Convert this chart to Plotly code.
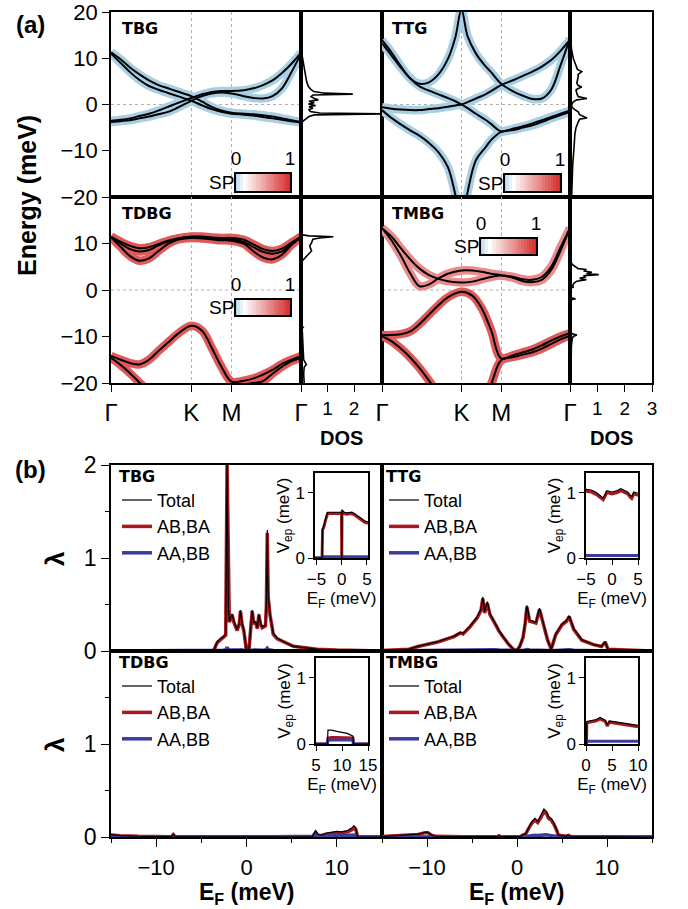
import plotly.graph_objects as go

# ======================= DATA =======================
# ---- panel (a): k-path, band energies (meV) ----
K_PT = 0.4226
M_PT = 0.634
k_ticks = [0.0, K_PT, M_PT, 1.0]
k_labels = ["Γ", "K", "M", "Γ"]

k_std = [0, 0.05, 0.1, 0.15, 0.2, 0.25, 0.3, 0.35, 0.4226, 0.48, 0.53, 0.58, 0.634,
         0.7, 0.75, 0.8, 0.85, 0.9, 0.95, 1.0]
k_ttg = [0, 0.05, 0.1, 0.15, 0.2, 0.25, 0.3, 0.35, 0.39, 0.4226, 0.455, 0.5, 0.55, 0.58,
         0.634, 0.7, 0.75, 0.8, 0.85, 0.9, 0.95, 1.0]

tbg_bands = [
    [11.3, 9.8, 8.0, 6.5, 5.2, 4.2, 3.5, 2.8, 1.8, 0.6, -0.5, -1.3, -1.8, -2.0, -2.1, -2.3, -2.6, -3.0, -3.4, -3.8],
    [11.0, 9.0, 7.0, 5.3, 4.0, 3.2, 2.5, 1.8, 0.8, -0.2, -1.0, -1.6, -2.0, -2.2, -2.4, -2.7, -3.0, -3.3, -3.6, -3.9],
    [-3.5, -3.3, -3.0, -2.5, -2.0, -1.3, -0.5, 0.3, 1.4, 2.2, 2.7, 2.9, 2.9, 3.1, 3.5, 4.2, 5.2, 6.8, 8.8, 11.2],
    [-3.8, -3.6, -3.4, -3.0, -2.6, -2.1, -1.6, -0.7, 0.8, 1.8, 2.4, 2.6, 2.4, 1.8, 1.4, 1.3, 1.8, 3.5, 7.0, 11.0],
]
ttg_bands = [
    [13.9, 11.3, 8.3, 5.7, 4.5, 4.8, 6.5, 9.8, 14.5, 20.5, 14.8, 11.0, 8.3, 7.0, 4.5, 2.8, 1.9, 1.2, 1.3, 3.2, 8.5, 14.3],
    [13.2, 10.6, 8.0, 5.6, 3.9, 3.0, 2.2, 1.4, 0.7, 0.0, -0.8, -2.0, -3.3, -4.2, -5.8, -5.2, -4.7, -4.1, -3.4, -2.7, -2.0, -1.3],
    [-0.6, -0.9, -1.1, -1.2, -1.2, -1.0, -0.8, -0.5, -0.2, 0.0, 0.5, 1.3, 2.2, 2.9, 4.2, 5.3, 6.2, 7.1, 8.2, 9.6, 11.6, 14.0],
    [-1.2, -2.9, -4.3, -5.6, -6.8, -8.3, -10.3, -13.5, -19.5, -26.0, -19.0, -12.0, -9.3, -7.7, -5.9, -5.5, -5.0, -4.5, -3.8, -3.0, -2.3, -1.6],
]
tdbg_bands = [
    [11.5, 10.4, 9.5, 9.0, 9.2, 9.9, 10.6, 11.1, 11.5, 11.5, 11.3, 11.2, 11.2, 10.8, 9.8, 8.8, 8.4, 8.9, 10.2, 11.5],
    [11.3, 9.3, 7.3, 6.3, 6.8, 8.4, 9.9, 10.8, 11.2, 11.1, 10.9, 10.7, 10.6, 9.9, 8.3, 7.0, 6.6, 7.6, 9.7, 11.3],
    [11.4, 10.0, 8.8, 8.3, 8.6, 9.6, 10.4, 11.0, 11.4, 11.3, 11.1, 11.0, 10.9, 10.3, 9.2, 8.2, 7.8, 8.3, 9.9, 11.4],
    [-14.2, -15.0, -15.7, -16.0, -15.0, -13.1, -11.3, -9.5, -7.7, -8.8, -12.4, -16.4, -19.7, -19.5, -19.0, -18.2, -17.2, -15.9, -15.0, -14.2],
    [-14.6, -16.1, -17.9, -19.9, -22.0, -24.0, -26.0, -28.0, -30.0, -28.0, -26.0, -23.0, -20.6, -20.3, -20.0, -19.6, -18.0, -16.5, -15.3, -14.6],
]
tmbg_bands = [
    [13.3, 10.7, 7.4, 3.6, 0.8, 1.2, 2.5, 3.5, 4.2, 4.2, 3.9, 3.5, 3.2, 2.8, 2.3, 2.2, 2.8, 5.0, 9.2, 13.3],
    [13.3, 11.5, 9.0, 6.6, 4.6, 3.2, 2.4, 1.9, 1.6, 1.8, 2.3, 2.8, 3.1, 2.6, 1.9, 1.7, 2.2, 4.3, 8.5, 13.3],
    [-9.7, -9.7, -9.5, -8.9, -7.3, -5.3, -3.3, -1.6, -0.4, -1.2, -3.9, -8.6, -14.7, -14.0, -13.4, -12.8, -11.9, -10.9, -10.0, -9.3],
    [-9.9, -11.0, -12.6, -14.5, -16.8, -19.5, -22.5, -25.5, -30.0, -28.0, -24.5, -20.3, -15.1, -14.4, -13.9, -13.4, -12.6, -11.6, -10.6, -9.8],
]

# ---- panel (a): DOS ----
tbg_dos_E = [20, 11.6, 11.0, 10.0, 9.0, 8.0, 7.0, 6.0, 5.0, 4.0, 3.3, 2.8, 2.45, 2.25, 2.05, 1.7, 1.3, 1.0, 0.7, 0.4,
             0.1, -0.2, -0.5, -0.8, -1.1, -1.5, -1.85, -2.05, -2.25, -2.6, -3.0, -3.5, -3.9, -4.3, -20]
tbg_dos_D = [0, 0, 0.03, 0.06, 0.09, 0.12, 0.15, 0.18, 0.21, 0.27, 0.36, 0.48, 0.9, 1.95, 0.45, 0.38, 0.5, 0.65, 0.3, 0.5,
             0.28, 0.55, 0.3, 0.45, 0.3, 0.35, 0.7, 3.3, 0.5, 0.3, 0.2, 0.1, 0.03, 0, 0]
ttg_dos_E = [20, 15.4, 13.5, 11.8, 10, 8.5, 7.6, 7.1, 6.5, 6.0, 5.3, 4.6, 4.1, 3.8, 3.4, 3.1, 2.4, 1.7, 1.3, 1.0,
             0.6, 0.0, -0.5, -1.0, -1.6, -2.2, -2.9, -3.2, -3.8, -5.0, -6.3, -8, -9.9, -13, -17, -20]
ttg_dos_D = [0, 0, 0.03, 0.06, 0.12, 0.22, 0.27, 0.43, 0.3, 0.3, 0.27, 0.25, 0.3, 0.43, 0.28, 0.22, 0.25, 0.3, 0.62, 0.25,
             0.12, 0.07, 0.06, 0.15, 0.3, 0.35, 0.62, 0.35, 0.3, 0.22, 0.18, 0.15, 0.14, 0.1, 0.08, 0.06]
tdbg_dos_E = [20, 11.9, 11.65, 11.45, 11.2, 10.9, 10.2, 9.5, 8.9, 8.4, 7.7, 7.0, 6.6, 6.1, 5.9, -7.8, -8.0, -8.3,
              -9, -11, -13, -15, -16, -16.6, -18, -20]
tdbg_dos_D = [0, 0, 0.3, 1.22, 0.7, 0.45, 0.4, 0.33, 0.36, 0.4, 0.28, 0.15, 0.1, 0.02, 0, 0, 0.08, 0.03,
              0.05, 0.06, 0.07, 0.1, 0.2, 0.12, 0.1, 0.12]
tmbg_dos_E = [20, 13.5, 10, 7, 6, 5.5, 5.0, 4.6, 4.4, 4.1, 3.8, 3.5, 3.3, 3.1, 2.8, 2.5, 2.2, 1.9, 1.5, 1.0, 0.6,
              0.3, 0.0, -1.6, -1.9, -2.1, -9.3, -9.7, -10.0, -10.5, -12, -14, -17, -20]
tmbg_dos_D = [0, 0, 0.01, 0.02, 0.04, 0.08, 0.2, 0.3, 0.6, 0.5, 0.8, 0.6, 1.05, 0.5, 0.55, 0.35, 0.6, 0.25, 0.15, 0.1, 0.12,
              0.02, 0, 0, 0.2, 0.02, 0.02, 0.25, 0.12, 0.08, 0.05, 0.04, 0.03, 0.03]

# ---- SP colour-bar levels ----
sp_levels = [0.0, 0.05, 0.1, 0.15, 0.2, 0.25, 0.3, 0.35, 0.4, 0.45, 0.5, 0.55, 0.6, 0.65, 0.7, 0.75, 0.8,
             0.85, 0.9, 0.95, 1.0]

# ---- panel (b): lambda vs E_F ----
tbg_lam_E = [-15, -4.0, -3.6, -3.24, -2.9, -2.6, -2.3, -2.15, -2.0, -1.9, -1.6, -1.4, -1.04, -0.8, -0.67, -0.5,
             -0.3, -0.1, 0.0, 0.26, 0.45, 0.63, 0.8, 1.0, 1.2, 1.37, 1.55, 1.74, 2.1, 2.2, 2.3, 2.4, 2.6, 2.96,
             3.4, 4.1, 5.2, 7.8, 10, 15]
tbg_lam_tot = [0, 0, 0.01, 0.1, 0.13, 0.15, 0.18, 2.05, 0.45, 0.32, 0.4, 0.32, 0.23, 0.3, 0.44, 0.3,
               0.23, 0.05, 0.0, 0.0, 0.2, 0.44, 0.3, 0.32, 0.25, 0.4, 0.3, 0.26, 0.28, 0.5, 1.3, 0.6, 0.4, 0.19,
               0.14, 0.1, 0.05, 0.02, 0.01, 0]
tbg_lam_ab = [0, 0, 0.01, 0.09, 0.12, 0.14, 0.17, 2.0, 0.43, 0.31, 0.39, 0.31, 0.22, 0.29, 0.43, 0.29,
              0.22, 0.05, 0.0, 0.0, 0.19, 0.43, 0.29, 0.31, 0.24, 0.39, 0.29, 0.25, 0.27, 0.48, 1.27, 0.58, 0.39, 0.18,
              0.13, 0.1, 0.05, 0.02, 0.01, 0]
tbg_lam_aa = [0, 0, 0, 0.005, 0.006, 0.008, 0.012, 0.04, 0.015, 0.01, 0.012, 0.01, 0.008, 0.01, 0.012, 0.01,
              0.008, 0.002, 0, 0, 0.006, 0.012, 0.01, 0.01, 0.008, 0.012, 0.01, 0.008, 0.01, 0.015, 0.03, 0.015, 0.01,
              0.006, 0.004, 0.003, 0.002, 0.001, 0, 0]

ttg_lam_E = [-15, -12, -11, -8.8, -7, -6.3, -6.0, -5.2, -4.4, -4.0, -3.8, -3.6, -3.3, -3.0, -2.6, -2.0, -1.5,
             -0.9, -0.4, -0.1, 0.3, 0.67, 0.9, 1.1, 1.4, 2.1, 2.5, 3.0, 3.4, 3.8, 4.3, 5.0, 5.5, 5.8, 6.3, 7.2,
             8.5, 9.4, 9.8, 10.1, 12, 15]
ttg_lam_tot = [0.005, 0.02, 0.05, 0.1, 0.16, 0.2, 0.19, 0.27, 0.37, 0.45, 0.58, 0.42, 0.53, 0.4, 0.33, 0.22, 0.15,
               0.07, 0.02, 0.0, 0.05, 0.15, 0.3, 0.49, 0.33, 0.31, 0.46, 0.26, 0.12, 0.02, 0.18, 0.29, 0.33, 0.38,
               0.24, 0.12, 0.07, 0.05, 0.1, 0.02, 0.01, 0]
ttg_lam_ab = [0.005, 0.02, 0.048, 0.097, 0.155, 0.194, 0.184, 0.262, 0.36, 0.437, 0.565, 0.408, 0.515, 0.388, 0.32,
              0.213, 0.145, 0.068, 0.02, 0.0, 0.048, 0.145, 0.29, 0.476, 0.32, 0.3, 0.447, 0.252, 0.116, 0.02, 0.175,
              0.282, 0.32, 0.369, 0.233, 0.116, 0.068, 0.048, 0.097, 0.02, 0.01, 0]
ttg_lam_aa = [0, 0.004, 0.006, 0.008, 0.01, 0.012, 0.012, 0.014, 0.016, 0.018, 0.02, 0.016, 0.018, 0.015, 0.013,
              0.01, 0.008, 0.005, 0.002, 0, 0.003, 0.006, 0.01, 0.015, 0.01, 0.01, 0.014, 0.01, 0.006, 0.002, 0.007,
              0.01, 0.012, 0.013, 0.009, 0.006, 0.004, 0.003, 0.004, 0.001, 0, 0]

tdbg_lam_E = [-15, -14, -12, -10, -8.3, -8.1, -7.9, -5, 0, 5, 7.3, 7.5, 7.65, 7.9, 8.3, 8.8, 9.3, 10.0, 10.6,
              11.2, 11.7, 11.9, 12.1, 12.3, 15]
tdbg_lam_tot = [0.025, 0.015, 0.008, 0.005, 0.005, 0.03, 0.005, 0.002, 0.001, 0.001, 0.002, 0.04, 0.07, 0.03, 0.02,
                0.04, 0.05, 0.06, 0.055, 0.07, 0.1, 0.12, 0.1, 0.0, 0]
tdbg_lam_ab = [0.022, 0.013, 0.007, 0.004, 0.004, 0.025, 0.004, 0.002, 0.001, 0.001, 0.002, 0.03, 0.05, 0.02, 0.015,
               0.03, 0.04, 0.045, 0.045, 0.055, 0.08, 0.1, 0.08, 0.0, 0]
tdbg_lam_aa = [0.002, 0.001, 0.001, 0, 0, 0.003, 0, 0, 0, 0, 0, 0.008, 0.015, 0.008, 0.006, 0.01, 0.012, 0.014, 0.012,
               0.015, 0.02, 0.022, 0.02, 0, 0]

tmbg_lam_E = [-15, -13, -12, -11, -10.2, -9.9, -9.5, -9, -6, -2.2, -2.0, -1.8, 0.3, 0.6, 1.0, 1.4, 1.7, 2.0, 2.3,
              2.6, 3.0, 3.3, 3.5, 3.8, 4.1, 4.4, 4.6, 5.5, 5.7, 6, 10, 15]
tmbg_lam_tot = [0.005, 0.015, 0.02, 0.03, 0.05, 0.05, 0.02, 0.008, 0.003, 0.003, 0.015, 0.003, 0.003, 0.02, 0.04,
                0.12, 0.17, 0.2, 0.17, 0.22, 0.3, 0.27, 0.22, 0.2, 0.15, 0.08, 0.02, 0.01, 0.02, 0.005, 0.002, 0]
tmbg_lam_ab = [0.005, 0.014, 0.019, 0.028, 0.047, 0.047, 0.019, 0.007, 0.003, 0.003, 0.014, 0.003, 0.003, 0.018,
               0.037, 0.11, 0.155, 0.182, 0.155, 0.2, 0.275, 0.247, 0.2, 0.182, 0.137, 0.073, 0.018, 0.009, 0.018,
               0.005, 0.002, 0]
tmbg_lam_aa = [0, 0.001, 0.001, 0.002, 0.003, 0.003, 0.001, 0, 0, 0, 0.001, 0, 0, 0.002, 0.003, 0.01, 0.015, 0.018,
               0.015, 0.02, 0.025, 0.023, 0.02, 0.018, 0.013, 0.007, 0.002, 0.001, 0.001, 0, 0, 0]

# ---- panel (b) insets: V_ep vs E_F ----
tbg_in_E = [-5.3, -3.9, -3.8, -3.6, -3.2, -2.8, -2.0, -1.0, -0.2, -0.05, 0.0, 0.05, 0.2, 0.5, 1.0, 1.5, 2.0, 2.5,
            3.0, 3.5, 4.0, 4.5, 5.2]
tbg_in_tot = [0, 0, 0.45, 0.48, 0.6, 0.7, 0.7, 0.7, 0.7, 0.7, 0.0, 0.74, 0.72, 0.7, 0.69, 0.7, 0.7, 0.68, 0.65, 0.62,
              0.6, 0.57, 0.55]
tbg_in_ab = [0, 0, 0.43, 0.46, 0.58, 0.68, 0.68, 0.68, 0.68, 0.68, 0.0, 0.72, 0.7, 0.68, 0.67, 0.68, 0.68, 0.66, 0.63,
             0.6, 0.58, 0.55, 0.53]
tbg_in_aa = [0, 0, 0.02, 0.02, 0.02, 0.02, 0.02, 0.02, 0.02, 0.02, 0.0, 0.02, 0.02, 0.02, 0.02, 0.02, 0.02, 0.02,
             0.02, 0.02, 0.02, 0.02, 0.02]

ttg_in_E = [-5, -4, -3, -2.5, -2, -1.7, -1.3, -1, 0, 1, 1.7, 2.5, 3, 3.5, 3.8, 4.2, 5]
ttg_in_tot = [1.05, 1.04, 1.0, 0.97, 0.94, 0.92, 0.98, 1.03, 1.01, 1.03, 1.06, 1.03, 1.01, 0.96, 0.94, 1.01, 0.99]
ttg_in_ab = [1.02, 1.01, 0.97, 0.94, 0.91, 0.89, 0.95, 1.0, 0.98, 1.0, 1.03, 1.0, 0.98, 0.93, 0.91, 0.98, 0.96]
ttg_in_aa = [0.04, 0.04, 0.04, 0.04, 0.04, 0.04, 0.04, 0.04, 0.04, 0.04, 0.04, 0.04, 0.04, 0.04, 0.04, 0.04, 0.04]

tdbg_in_E = [5, 7.2, 7.3, 8, 9, 10, 11, 11.8, 12.1, 12.2, 15]
tdbg_in_tot = [0, 0, 0.21, 0.21, 0.19, 0.18, 0.16, 0.13, 0.12, 0, 0]
tdbg_in_ab = [0, 0, 0.09, 0.1, 0.1, 0.1, 0.1, 0.09, 0.09, 0, 0]
tdbg_in_aa = [0, 0, 0.06, 0.06, 0.06, 0.06, 0.06, 0.06, 0.06, 0, 0]

tmbg_in_E = [0, 0.1, 0.15, 1.0, 2.0, 2.7, 3.7, 4.1, 4.5, 6.0, 8.0, 10.0]
tmbg_in_tot = [0, 0, 0.34, 0.35, 0.37, 0.40, 0.36, 0.29, 0.35, 0.33, 0.30, 0.28]
tmbg_in_ab = [0, 0, 0.32, 0.33, 0.35, 0.38, 0.34, 0.27, 0.33, 0.31, 0.28, 0.26]
tmbg_in_aa = [0, 0, 0.04, 0.04, 0.04, 0.04, 0.04, 0.04, 0.04, 0.04, 0.04, 0.04]

# ======================= STYLE / LAYOUT =======================
W, H = 688, 909
FONT = "Liberation Sans, Arial, sans-serif"
TFONT = "DejaVu Sans, sans-serif"
HALO_BLUE = "#a8cfe4"
HALO_RED = "#e05a5a"
HALO_PINK = "#ea8c8c"
AB_RED = "#a8191e"
AA_BLUE = "#3b3b9b"
SP_SCALE = [[0.0, "#b3d5ea"], [0.15, "#ffffff"], [1.0, "#d42a2a"]]


def dx(a, b):
    return [a / W, b / W]


def dy(a, b):
    return [1 - b / H, 1 - a / H]


fig = go.Figure()
layout = dict(width=W, height=H, margin=dict(l=0, r=0, t=0, b=0, autoexpand=False), paper_bgcolor="white",
              plot_bgcolor="white", font=dict(family=FONT, color="black"), showlegend=True)
shapes, annots = [], []
n_ax = [0]


def make_axes(xd, yd, xa, ya):
    n_ax[0] += 1
    s = "" if n_ax[0] == 1 else str(n_ax[0])
    common = dict(showline=True, mirror=True, linecolor="black", linewidth=1.5, zeroline=False,
                  showgrid=False, fixedrange=True, ticks="", showticklabels=False, tickcolor="black",
                  automargin=False, ticklabeloverflow="allow")
    a = dict(common); a.update(xa); a.update(domain=xd, anchor="y" + s)
    b = dict(common); b.update(ya); b.update(domain=yd, anchor="x" + s)
    layout["xaxis" + s] = a
    layout["yaxis" + s] = b
    return "x" + s, "y" + s


def tf(size):
    return dict(family=FONT, size=size, color="black")


# ---------------- panel (a) ----------------
mats_a = [
    dict(name="TBG", k=k_std, bands=tbg_bands, halo=[HALO_BLUE] * 4, dE=tbg_dos_E, dD=tbg_dos_D,
         bx=(111, 301), sx=(301, 382), y=(12, 197), left=True, bottom=False, drange=[0, 3.05], dticks=[1, 2],
         cb=((236, 290), (174, 191))),
    dict(name="TTG", k=k_ttg, bands=ttg_bands, halo=[HALO_BLUE] * 4, dE=ttg_dos_E, dD=ttg_dos_D,
         bx=(382, 570), sx=(570, 652), y=(12, 197), left=False, bottom=False, drange=[0, 3.0], dticks=[1, 2, 3],
         cb=((505, 560), (175, 191))),
    dict(name="TDBG", k=k_std, bands=tdbg_bands, halo=[HALO_RED] * 5, dE=tdbg_dos_E, dD=tdbg_dos_D,
         bx=(111, 301), sx=(301, 382), y=(197, 383), left=True, bottom=True, drange=[0, 3.05], dticks=[1, 2],
         cb=((236, 290), (300, 315))),
    dict(name="TMBG", k=k_std, bands=tmbg_bands, halo=[HALO_PINK, HALO_PINK, HALO_RED, HALO_RED],
         dE=tmbg_dos_E, dD=tmbg_dos_D,
         bx=(382, 570), sx=(570, 652), y=(197, 383), left=False, bottom=True, drange=[0, 3.0], dticks=[1, 2, 3],
         cb=((481, 536), (239, 254))),
]

for m in mats_a:
    xa = dict(range=[0, 1], tickvals=k_ticks, ticktext=k_labels, showgrid=True, gridcolor="#b0b0b0",
              griddash="dot", gridwidth=1)
    if m["bottom"]:
        xa.update(ticks="outside", ticklen=7, showticklabels=True, tickfont=tf(24))
    ya = dict(range=[-20, 20])
    if m["left"]:
        ya.update(ticks="outside", ticklen=7, showticklabels=True, tickfont=tf(22),
                  tickvals=[-20, -10, 0, 10, 20] if not m["bottom"] else [-20, -10, 0, 10])
    xr, yr = make_axes(dx(*m["bx"]), dy(*m["y"]), xa, ya)
    shapes.append(dict(type="line", xref=xr + " domain", x0=0, x1=1, yref=yr, y0=0, y1=0, layer="below",
                       line=dict(color="#b0b0b0", width=1, dash="dot")))
    for band, hc in zip(m["bands"], m["halo"]):
        fig.add_trace(go.Scatter(x=m["k"], y=band, mode="lines", line=dict(color=hc, width=8.5, shape="spline"),
                                 xaxis=xr, yaxis=yr, showlegend=False, hoverinfo="skip"))
    for band in m["bands"]:
        fig.add_trace(go.Scatter(x=m["k"], y=band, mode="lines", line=dict(color="black", width=2, shape="spline"),
                                 xaxis=xr, yaxis=yr, showlegend=False, hoverinfo="skip"))
    annots.append(dict(text="<b>%s</b>" % m["name"], xref=xr + " domain", yref=yr + " domain", x=0.045, y=0.975,
                       xanchor="left", yanchor="top", showarrow=False, font=dict(family=TFONT, size=16, color="black")))
    # DOS
    xa = dict(range=m["drange"])
    if m["bottom"]:
        xa.update(ticks="outside", ticklen=7, showticklabels=True, tickvals=m["dticks"], tickfont=tf(19))
    xr2, yr2 = make_axes(dx(*m["sx"]), dy(*m["y"]), xa, dict(range=[-20, 20]))
    fig.add_trace(go.Scatter(x=m["dD"], y=m["dE"], mode="lines", line=dict(color="black", width=1.6),
                             xaxis=xr2, yaxis=yr2, showlegend=False, hoverinfo="skip"))
    # SP colour bar
    (cx0, cx1), (cy0, cy1) = m["cb"]
    xr3, yr3 = make_axes(dx(cx0, cx1), dy(cy0, cy1),
                         dict(range=[0, 1], side="top", tickvals=[0, 1], ticktext=["0", "1"], showticklabels=True,
                              tickfont=tf(19), linewidth=1.5),
                         dict(range=[-0.5, 0.5], linewidth=1.5))
    fig.add_trace(go.Heatmap(z=[sp_levels], x=sp_levels, y=[0], colorscale=SP_SCALE, zmin=0, zmax=1,
                             showscale=False, xaxis=xr3, yaxis=yr3, hoverinfo="skip"))
    annots.append(dict(text="SP", xref=xr3 + " domain", yref=yr3 + " domain", x=0, y=0.5, xanchor="right",
                       yanchor="middle", xshift=0, showarrow=False, font=tf(19)))

# ---------------- panel (b) ----------------
mats_b = [
    dict(name="TBG", E=tbg_lam_E, tot=tbg_lam_tot, ab=tbg_lam_ab, aa=tbg_lam_aa, bx=(111, 382), y=(465, 651),
         left=True, bottom=False, iE=tbg_in_E, itot=tbg_in_tot, iab=tbg_in_ab, iaa=tbg_in_aa,
         ix=(315, 368), iy=(473, 558), irange=[-5.3, 5.2], iticks=[-5, 0, 5], leg="legend", lx=117),
    dict(name="TTG", E=ttg_lam_E, tot=ttg_lam_tot, ab=ttg_lam_ab, aa=ttg_lam_aa, bx=(382, 652), y=(465, 651),
         left=False, bottom=False, iE=ttg_in_E, itot=ttg_in_tot, iab=ttg_in_ab, iaa=ttg_in_aa,
         ix=(586, 638), iy=(473, 558), irange=[-5, 5], iticks=[-5, 0, 5], leg="legend2", lx=384),
    dict(name="TDBG", E=tdbg_lam_E, tot=tdbg_lam_tot, ab=tdbg_lam_ab, aa=tdbg_lam_aa, bx=(111, 382), y=(651, 837),
         left=True, bottom=True, iE=tdbg_in_E, itot=tdbg_in_tot, iab=tdbg_in_ab, iaa=tdbg_in_aa,
         ix=(316, 368), iy=(658, 744), irange=[5, 15], iticks=[5, 10, 15], leg="legend3", lx=117),
    dict(name="TMBG", E=tmbg_lam_E, tot=tmbg_lam_tot, ab=tmbg_lam_ab, aa=tmbg_lam_aa, bx=(382, 652), y=(651, 837),
         left=False, bottom=True, iE=tmbg_in_E, itot=tmbg_in_tot, iab=tmbg_in_ab, iaa=tmbg_in_aa,
         ix=(586, 638), iy=(658, 744), irange=[0, 10], iticks=[0, 5, 10], leg="legend4", lx=384),
]

for i, m in enumerate(mats_b):
    xa = dict(range=[-15, 15])
    if m["bottom"]:
        xa.update(ticks="outside", ticklen=8, showticklabels=True, tickmode="linear", tick0=0, dtick=10,
                  tickfont=tf(22), ticklabelstandoff=2,
                  minor=dict(ticks="outside", ticklen=4, dtick=5, tick0=0, tickcolor="black"))
    ya = dict(range=[0, 2])
    if m["left"]:
        ya.update(ticks="outside", ticklen=8, showticklabels=True, tickvals=[0, 1, 2] if not m["bottom"] else [0, 1],
                  tickfont=tf(23), minor=dict(ticks="outside", ticklen=4, tickvals=[0.5, 1.5], tickcolor="black"))
    xr, yr = make_axes(dx(*m["bx"]), dy(*m["y"]), xa, ya)
    g = m["name"]
    fig.add_trace(go.Scatter(x=m["E"], y=m["ab"], mode="lines", line=dict(color=AB_RED, width=3.5), name="AB,BA",
                             legend=m["leg"], legendgroup=g + "ab", legendrank=2, xaxis=xr, yaxis=yr, hoverinfo="skip"))
    fig.add_trace(go.Scatter(x=m["E"], y=m["aa"], mode="lines", line=dict(color=AA_BLUE, width=3.5), name="AA,BB",
                             legend=m["leg"], legendgroup=g + "aa", legendrank=3, xaxis=xr, yaxis=yr, hoverinfo="skip"))
    fig.add_trace(go.Scatter(x=m["E"], y=m["tot"], mode="lines", line=dict(color="black", width=1.2), name="Total",
                             legend=m["leg"], legendgroup=g + "tot", legendrank=1, xaxis=xr, yaxis=yr, hoverinfo="skip"))
    layout[m["leg"]] = dict(x=m["lx"] / W, y=1 - (m["y"][0] - 4) / H, xanchor="left", yanchor="top",
                            bgcolor="rgba(0,0,0,0)", font=tf(18), tracegroupgap=0, itemwidth=30,
                            title=dict(text="<b>%s</b>" % g, font=dict(family=TFONT, size=16, color="black")))
    # inset
    xi, yi = make_axes(dx(*m["ix"]), dy(*m["iy"]),
                       dict(range=m["irange"], tickvals=m["iticks"], ticks="outside", ticklen=5, showticklabels=True,
                            tickfont=tf(17), title=dict(text="E<sub>F</sub> (meV)", font=tf(17), standoff=0)),
                       dict(range=[0, 1.3], tickvals=[0, 1], ticks="outside", ticklen=5, showticklabels=True,
                            tickfont=tf(17), title=dict(text="V<sub>ep</sub> (meV)", font=tf(17), standoff=0)))
    fig.add_trace(go.Scatter(x=m["iE"], y=m["iab"], mode="lines", line=dict(color=AB_RED, width=3),
                             xaxis=xi, yaxis=yi, showlegend=False, hoverinfo="skip"))
    fig.add_trace(go.Scatter(x=m["iE"], y=m["iaa"], mode="lines", line=dict(color=AA_BLUE, width=3),
                             xaxis=xi, yaxis=yi, showlegend=False, hoverinfo="skip"))
    fig.add_trace(go.Scatter(x=m["iE"], y=m["itot"], mode="lines", line=dict(color="black", width=1.2),
                             xaxis=xi, yaxis=yi, showlegend=False, hoverinfo="skip"))

# ---------------- labels ----------------
def paper_text(text, x, y, size, angle=0, family=FONT):
    annots.append(dict(text=text, xref="paper", yref="paper", x=x / W, y=1 - y / H, xanchor="center",
                       yanchor="middle", showarrow=False, textangle=angle,
                       font=dict(family=family, size=size, color="black")))


paper_text("<b>(a)</b>", 30, 25, 24)
paper_text("<b>(b)</b>", 30, 470, 24)
paper_text("<b>Energy (meV)</b>", 27, 196, 25, angle=-90)
paper_text("<b>DOS</b>", 341, 438, 20)
paper_text("<b>DOS</b>", 611, 438, 20)
paper_text("<b>λ</b>", 55, 559, 26, angle=-90)
paper_text("<b>λ</b>", 55, 745, 26, angle=-90)
paper_text("<b>E<sub>F</sub> (meV)</b>", 246, 893, 23)
paper_text("<b>E<sub>F</sub> (meV)</b>", 516, 893, 23)

layout["shapes"] = shapes
layout["annotations"] = annots
fig.update_layout(**layout)
fig.write_html("out.html", config={"displayModeBar": False},
               post_script="document.body.style.margin='0px';")
